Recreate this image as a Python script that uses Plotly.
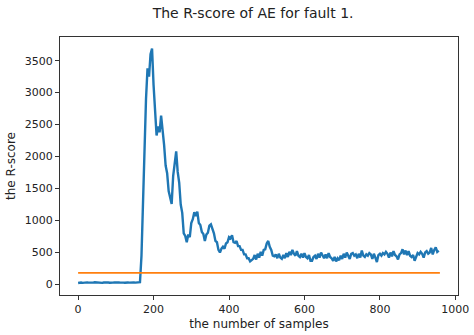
import plotly.graph_objects as go

# Sampled every 4 samples (sample index = 4 * position)
sample_step = 4
r_score = [
    # 0 - 164: normal operation
    22, 28, 31, 25, 30, 27, 33, 29, 26, 31, 28, 34, 30, 27, 32, 29, 25, 31, 33, 28,
    30, 26, 32, 29, 31, 27, 34, 30, 28, 33, 29, 26, 31, 30, 28, 32, 27, 31, 29, 33,
    30, 35,
    # 168 - 200: fault onset and peak
    450, 1350, 1890, 2900, 3380, 3250, 3600, 3690, 3120,
    # 204 - 296
    2780, 2330, 2470, 2380, 2640, 2420, 2180, 1860, 1740, 1460, 1350, 1260, 1700, 1880,
    2080, 1760, 1590, 1250, 1120, 800, 760, 660, 780, 740,
    # 300 - 524
    960, 1020, 1130, 1070, 1140, 960, 930, 820, 790, 680, 780, 810, 920, 940, 870, 800,
    680, 660, 540, 500, 560, 590, 560, 640, 660, 740, 720, 770, 660, 650, 680, 600,
    600, 540, 540, 470, 470, 410, 410, 360, 380, 400, 460, 390, 480, 420, 510, 450,
    540, 550, 640, 680, 590, 540, 450, 440, 470,
    # 528 - 956
    410, 480, 420, 400, 460, 410, 490, 430, 510, 460, 540, 480, 450, 520, 450, 430,
    480, 420, 490, 430, 410, 460, 370, 370, 430, 450, 400, 480, 420, 500, 440, 410,
    470, 410, 490, 430, 410, 370, 430, 360, 410, 380, 450, 400, 480, 420, 500, 440,
    400, 480, 490, 450, 470, 410, 480, 420, 530, 450, 430, 470, 450, 490, 470, 400,
    480, 420, 350, 460, 480, 450, 490, 470, 510, 480, 420, 500, 440, 520, 460, 440,
    390, 470, 490, 550, 470, 530, 460, 520, 450, 430, 460, 370, 450, 490, 470, 510,
    480, 420, 500, 520, 480, 500, 570, 470, 540, 580, 510, 530,
]
threshold = 180
n_samples = 960

x_tick_vals = [0, 200, 400, 600, 800, 1000]
y_tick_vals = [0, 500, 1000, 1500, 2000, 2500, 3000, 3500]

samples = [i * sample_step for i in range(len(r_score))]

fig = go.Figure()
fig.add_trace(go.Scatter(
    x=samples, y=r_score, mode="lines",
    line=dict(color="#1f77b4", width=2.4), showlegend=False,
))
fig.add_trace(go.Scatter(
    x=[0, n_samples - 1], y=[threshold, threshold], mode="lines",
    line=dict(color="#ff7f0e", width=1.8), showlegend=False,
))

font_family = "DejaVu Sans"
axis_common = dict(
    showgrid=False, zeroline=False, showline=True, mirror=True,
    linecolor="#333333", linewidth=1, ticks="outside", ticklen=4,
    tickcolor="#333333", tickfont=dict(family=font_family, size=11, color="#222222"),
)

fig.update_layout(
    width=474, height=335,
    margin=dict(l=60, r=16, t=37, b=40, autoexpand=False),
    paper_bgcolor="white", plot_bgcolor="white",
    title=dict(
        text="The R-score of AE for fault 1.",
        font=dict(family=font_family, size=14, color="#222222"),
        x=0.534, xanchor="center", xref="container",
        y=0.962, yanchor="middle", yref="container",
    ),
    xaxis=dict(
        range=[-48, 1007], tickvals=x_tick_vals,
        title=dict(text="the number of samples",
                   font=dict(family=font_family, size=12, color="#222222"),
                   standoff=4),
        **axis_common,
    ),
    yaxis=dict(
        range=[-165, 3870], tickvals=y_tick_vals,
        title=dict(text="the R-score",
                   font=dict(family=font_family, size=12, color="#222222"),
                   standoff=6),
        **axis_common,
    ),
)

fig.write_html("out.html")
